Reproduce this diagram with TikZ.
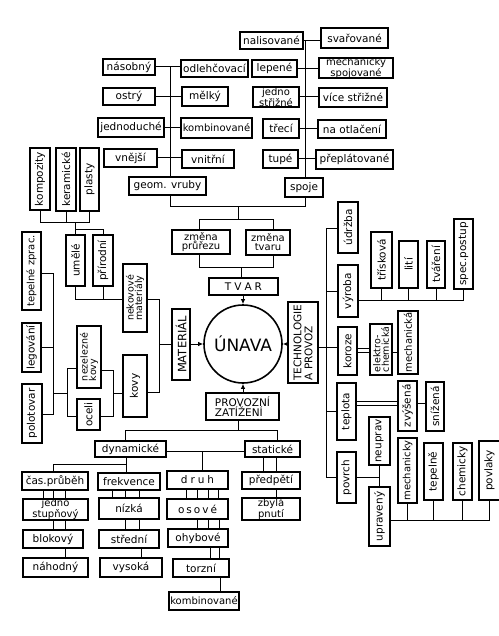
\documentclass[tikz,border=0pt]{standalone}
\usepackage{fontspec}
\setmainfont{DejaVu Sans}
\usetikzlibrary{arrows.meta}
\newcommand\bxm[8]{\node[#1,minimum width={(#6-#4)*1pt},minimum height={(#7-#5)*1pt}] (#3) at ({(#4+#6)/2},{(#5+#7)/2}) {}; \node[lbl,#2] at (#3) {#8};}
\newcommand\hb[7][]{\bxm{bx}{#1}{#2}{#3}{#4}{#5}{#6}{#7}}
\newcommand\vb[7][]{\bxm{bx}{rotate=90,#1}{#2}{#3}{#4}{#5}{#6}{#7}}
\newcommand\tk[3]{\foreach \o in {#3} \draw[cn] ([xshift=\o pt]#1.south) -- ([xshift=\o pt]#1.south |- #2.north);}
\begin{document}
\begin{tikzpicture}[x=1pt,y=-1pt,
  bx/.style={draw,line width=1.1pt,inner sep=0pt,outer sep=0pt},
  bxb/.style={bx,line width=1.6pt},
  lbl/.style={inner sep=0pt,align=center,font=\fontsize{10.5}{10.5}\selectfont},
  two/.style={font=\fontsize{10}{9}\selectfont},
  sm/.style={font=\fontsize{9.5}{8.5}\selectfont},
  nar/.style={font=\fontsize{10}{10}\selectfont},
  cn/.style={line width=1pt},
  arr/.style={cn,-{Latex[length=5pt,width=4.5pt]}}]
\useasboundingbox (0,0) rectangle (498,636);
\fill[white] (0,0) rectangle (498,636);

% ---- top left group (notches)
\hb{nasobny}{103}{59}{155}{75}{násobný}
\hb{odlehc}{181}{60}{248}{77}{odlehčovací}
\hb{ostry}{103}{88}{155}{105}{ostrý}
\hb{melky}{182}{87}{228}{106}{mělký}
\hb{jednod}{98}{118}{164}{137}{jednoduché}
\hb[nar]{kombA}{181}{118}{252}{138}{kombinované}
\hb{vnejsi}{104}{149}{157}{167}{vnější}
\hb{vnitrni}{182}{150}{234}{168}{vnitřní}
\hb{geom}{129}{177}{206}{195}{geom. vruby}

% ---- top right group (joints)
\hb{nalis}{240}{32}{303}{49}{nalisované}
\hb{svar}{321}{28}{388}{48}{svařované}
\hb{lepene}{252}{60}{297}{77}{lepené}
\hb[two]{mech}{319}{58}{393}{78}{mechanicky\\spojované}
\hb[two]{jedstr}{253}{87}{299}{107}{jedno\\střižné}
\hb{vicestr}{319}{88}{387}{107}{více střižné}
\hb{treci}{263}{119}{299}{138}{třecí}
\hb{naotl}{318}{120}{386}{138}{na otlačení}
\hb{tupe}{263}{150}{298}{168}{tupé}
\hb{preplat}{316}{150}{393}{169}{přeplátované}
\hb{spoje}{285}{178}{323}{197}{spoje}

\foreach \a/\b in {nasobny/odlehc, ostry/melky, jednod/kombA, vnejsi/vnitrni, nalis/svar, lepene/mech, jedstr/vicestr, treci/naotl, tupe/preplat}
  \draw[cn] (\a.east) -- (\a.east -| \b.west);
\coordinate (tl) at (170,67);
\coordinate (jl) at (170,207);
\coordinate (jr) at (305,207);
\coordinate (tr) at (305,41);
\draw[cn] (tl) -- (geom.north -| tl);
\draw[cn] (geom.south -| tl) -- (jl) -- (jr) -- (spoje.south -| jr);
\draw[cn] (tr) -- (spoje.north -| tr);

% ---- shape
\hb[two]{zprur}{172}{230}{230}{254}{změna\\průřezu}
\hb[two]{ztvar}{246}{230}{290}{255}{změna\\tvaru}
\coordinate (m0) at (238,207);
\coordinate (m1) at (238,219);
\coordinate (m2) at (199,219);
\coordinate (m3) at (273,219);
\coordinate (m4) at (199,267);
\coordinate (m5) at (273,267);
\coordinate (m6) at (241,267);
\draw[cn] (m0) -- (m1);
\draw[cn] (zprur.north -| m2) -- (m2) -- (m3) -- (ztvar.north -| m3);
\draw[cn] (zprur.south -| m4) -- (m4) -- (m5) -- (ztvar.south -| m5);
\bxm{bxb}{}{tvar}{209}{278}{278}{295}{T\hspace{3pt}V\hspace{3pt}A\hspace{3pt}R}
\draw[cn] (m6) -- (tvar.north -| m6);

% ---- centre
\node[draw,circle,line width=1.6pt,minimum size=78pt,inner sep=0pt,font=\fontsize{17}{17}\selectfont] (unava) at (243,344) {ÚNAVA};
\bxm{bxb}{rotate=90,font=\fontsize{11.5}{11.5}\selectfont}{material}{172}{309}{190}{380}{MATERIÁL}
\bxm{bxb}{rotate=90,align=left,font=\fontsize{10.5}{11}\selectfont}{tech}{288}{302}{318}{383}{TECHNOLOGIE\\A PROVOZ}
\bxm{bxb}{align=left,font=\fontsize{10.5}{10}\selectfont}{provoz}{206}{393}{279}{420}{PROVOZNÍ\\ZATÍŽENÍ}
\draw[arr] (tvar.south -| unava) -- (unava.north);
\draw[arr] (material.east |- unava) -- (unava.west);
\draw[arr] (tech.west |- unava) -- (unava.east);
\draw[arr] (provoz.north -| unava) -- (unava.south);

% ---- technology and operation
\vb{udrzba}{338}{202}{358}{253}{údržba}
\vb{vyroba}{338}{265}{358}{317}{výroba}
\vb{koroze}{338}{327}{357}{375}{koroze}
\vb{teplota}{337}{383}{356}{440}{teplota}
\vb{povrch}{337}{452}{356}{503}{povrch}
\coordinate (tt) at (326,228);
\coordinate (tb) at (326,477);
\coordinate (kc) at (326,347);
\draw[cn] (udrzba.west |- tt) -- (tt) -- (tb) -- (povrch.west |- tb);
\draw[cn] (vyroba.west) -- (vyroba.west -| tt);
\draw[cn] (tech.east |- kc) -- (koroze.west |- kc);
\draw[cn] (teplota.west) -- (teplota.west -| tt);

\vb{trisk}{371}{232}{392}{288}{třísková}
\vb{liti}{399}{241}{418}{288}{lití}
\vb{tvareni}{427}{241}{445}{288}{tváření}
\vb{spec}{454}{219}{473}{289}{spec.postup}
\coordinate (vy) at (463.5,300);
\draw[cn] (vyroba.east |- vy) -- (vy);
\foreach \n in {trisk,liti,tvareni,spec} \draw[cn] (\n.south) -- (\n.south |- vy);

\vb[sm,align=left]{elchem}{370}{324}{392}{375}{elektro-\\chemická}
\vb[nar]{mechka}{398}{311}{418}{374}{mechanická}
\coordinate (k1) at (360,348);
\coordinate (k2) at (360,352);
\draw[cn] (koroze.east |- k1) -- (elchem.west |- k1);
\draw[cn] (koroze.east |- k2) -- (elchem.west |- k2);
\draw[cn] (elchem.east |- k2) -- (mechka.west |- k2);

\vb{zvys}{398}{381}{417}{431}{zvýšená}
\vb{sniz}{426}{382}{444}{431}{snížená}
\coordinate (t1) at (360,401);
\coordinate (t2) at (360,405);
\coordinate (t3) at (420,403);
\draw[cn] (teplota.east |- t1) -- (zvys.west |- t1);
\draw[cn] (teplota.east |- t2) -- (zvys.west |- t2);
\draw[cn] (zvys.east |- t3) -- (sniz.west |- t3);

\vb{neupr}{369}{417}{390}{465}{neuprav}
\vb{upr}{369}{487}{390}{546}{upravený}
\vb[nar]{mechy}{398}{438}{417}{503}{mechanicky}
\vb{tepel}{424}{443}{443}{500}{tepelně}
\vb{chem}{453}{443}{472}{500}{chemicky}
\vb{povl}{479}{441}{500}{500}{povlaky}
\draw[cn] (neupr.south) -- (upr.north);
\draw[cn] (povrch.east) -- (povrch.east -| neupr.south);
\coordinate (uv) at (489.5,520);
\draw[cn] (upr.east |- uv) -- (uv);
\foreach \n in {mechy,tepel,chem,povl} \draw[cn] (\n.south) -- (\n.south |- uv);

% ---- material
\vb{kompoz}{30}{148}{50}{210}{kompozity}
\vb{keram}{56}{148}{76}{211}{keramické}
\vb{plasty}{80}{148}{99}{211}{plasty}
\vb{umele}{66}{235}{85}{286}{umělé}
\vb{prir}{93}{235}{113}{286}{přírodní}
\vb[sm,align=left]{nekov}{123}{264}{147}{332}{nekovové\\materiály}
\vb{kovy}{123}{355}{147}{417}{kovy}
\vb[sm,align=left]{nezel}{77}{326}{101}{388}{nezelezné\\kovy}
\vb{oceli}{77}{399}{100}{430}{oceli}
\vb[nar]{tepzpr}{22}{232}{41}{310}{tepelné zprac.}
\vb{legov}{22}{323}{41}{372}{legování}
\vb{polot}{22}{384}{42}{443}{polotovar}

\coordinate (lk) at (40,222);
\coordinate (lu) at (75.5,229);
\coordinate (ln) at (100,299);
\coordinate (lm) at (159,299);
\coordinate (lm2) at (159,392);
\draw[cn] (kompoz.south) -- (kompoz.south |- lk) -- (plasty.south |- lk) -- (plasty.south);
\draw[cn] (keram.south) -- (keram.south |- lk);
\draw[cn] (umele.north |- lk) -- (umele.north);
\draw[cn] (lu) -| (prir.north);
\draw[cn] (umele.south) -- (umele.south |- ln) -- (nekov.west |- ln);
\draw[cn] (prir.south) -- (prir.south |- ln);
\draw[cn] (nekov.east |- lm) -- (lm) -- (lm2) -- (kovy.east |- lm2);
\draw[cn] (material.west) -- (material.west -| lm);

\coordinate (nz) at (113,370);
\coordinate (oc) at (113,416);
\coordinate (kl) at (113,393);
\coordinate (nl) at (67,368);
\coordinate (ol) at (67,416);
\coordinate (ll) at (67,393);
\coordinate (pl) at (53,393);
\coordinate (p1) at (53,273);
\coordinate (p2) at (53,347);
\coordinate (p3) at (53,414);
\draw[cn] (nezel.east |- nz) -- (nz) -- (oc) -- (oceli.east |- oc);
\draw[cn] (kl) -- (kovy.west |- kl);
\draw[cn] (nezel.west |- nl) -- (nl) -- (ol) -- (oceli.west |- ol);
\draw[cn] (ll) -- (pl);
\draw[cn] (tepzpr.east |- p1) -- (p1) -- (p3) -- (polot.east |- p3);
\draw[cn] (legov.east |- p2) -- (p2);

% ---- operating load
\hb{dyn}{95}{441}{166}{457}{dynamické}
\hb{stat}{245}{441}{300}{457}{statické}
\hb{cas}{22}{472}{88}{490}{čas.průběh}
\hb[two]{jstup}{23}{499}{88}{520}{jedno\\stupňový}
\hb{blok}{23}{530}{83}{548}{blokový}
\hb{nahod}{23}{558}{88}{577}{náhodný}
\hb{frek}{98}{473}{160}{490}{frekvence}
\hb{nizka}{99}{498}{159}{519}{nízká}
\hb{stred}{99}{530}{159}{548}{střední}
\hb{vysoka}{100}{558}{162}{577}{vysoká}
\hb{druh}{167}{471}{228}{489}{d\hspace{3pt}r\hspace{3pt}u\hspace{3pt}h}
\hb{osove}{167}{499}{228}{519}{o\hspace{2pt}s\hspace{2pt}o\hspace{2pt}v\hspace{2pt}é}
\hb{ohyb}{168}{529}{228}{547}{ohybové}
\hb{torzni}{173}{559}{229}{577}{torzní}
\hb[nar]{kombB}{169}{592}{239}{610}{kombinované}
\hb{predp}{242}{472}{300}{489}{předpětí}
\hb[two]{zbyla}{242}{498}{300}{520}{zbylá\\pnutí}

\coordinate (b0) at (238,430);
\coordinate (bl) at (125,430);
\coordinate (br) at (277,430);
\coordinate (ds) at (200,451);
\coordinate (dd) at (202,451);
\coordinate (d1) at (126,464);
\coordinate (d0) at (53,464);
\draw[cn] (provoz.south -| b0) -- (b0);
\draw[cn] (dyn.north -| bl) -- (bl) -- (br) -- (stat.north -| br);
\draw[cn] (dyn.east |- ds) -- (stat.west |- ds);
\draw[cn] (dd) -- (druh.north -| dd);
\draw[cn] (dyn.south -| d1) -- (frek.north -| d1);
\draw[cn] (d1) -- (d0) -- (cas.north -| d0);

\tk{cas}{jstup}{-12,-2,10}
\tk{jstup}{blok}{-2.5,9.5}
\tk{blok}{nahod}{12}
\tk{frek}{nizka}{-17,-4,10}
\tk{nizka}{stred}{-4,10}
\tk{stred}{vysoka}{12}
\tk{druh}{osove}{-11.5,-0.5,10.5,20.5}
\tk{osove}{ohyb}{-0.5,10.5,21.5}
\tk{ohyb}{torzni}{12,21}
\tk{torzni}{kombB}{19}
\tk{stat}{predp}{-9.5,3.5}
\tk{predp}{zbyla}{5}
\end{tikzpicture}
\end{document}
